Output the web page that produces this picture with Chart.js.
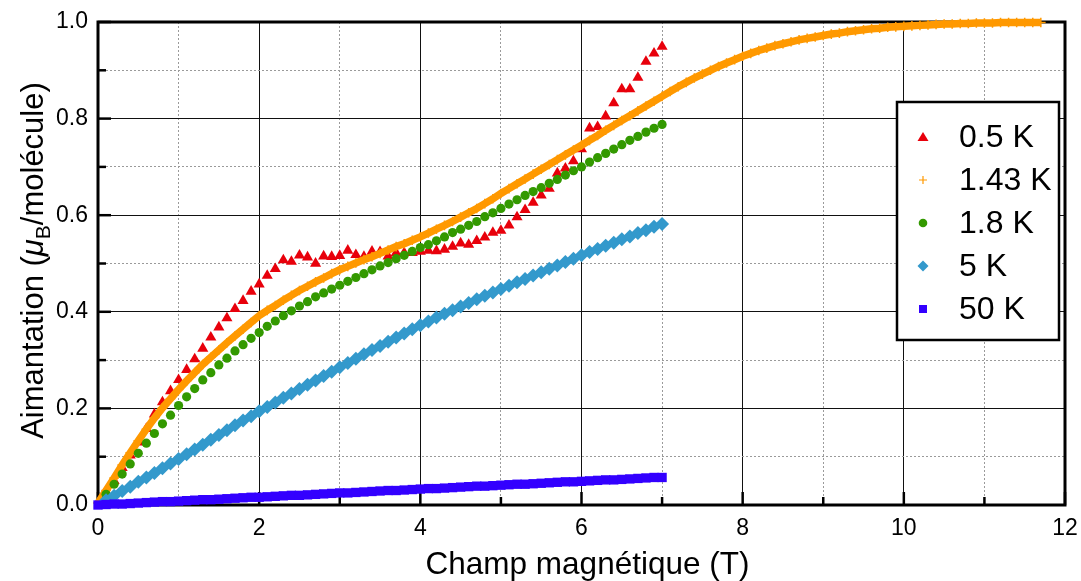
<!DOCTYPE html>
<html>
<head>
<meta charset="utf-8">
<script src="https://cdn.jsdelivr.net/npm/chart.js@4"></script>
<style>
  html, body { margin: 0; padding: 0; background: #fff; }
  canvas { display: block; }
</style>
</head>
<body>
<canvas id="chart" width="1081" height="581"></canvas>
<script>
// field values in tesla, 0.1 T steps
const fields = [0.1, 0.2, 0.3, 0.4, 0.5, 0.6, 0.7, 0.8, 0.9, 1.0,
  1.1, 1.2, 1.3, 1.4, 1.5, 1.6, 1.7, 1.8, 1.9, 2.0,
  2.1, 2.2, 2.3, 2.4, 2.5, 2.6, 2.7, 2.8, 2.9, 3.0,
  3.1, 3.2, 3.3, 3.4, 3.5, 3.6, 3.7, 3.8, 3.9, 4.0,
  4.1, 4.2, 4.3, 4.4, 4.5, 4.6, 4.7, 4.8, 4.9, 5.0,
  5.1, 5.2, 5.3, 5.4, 5.5, 5.6, 5.7, 5.8, 5.9, 6.0,
  6.1, 6.2, 6.3, 6.4, 6.5, 6.6, 6.7, 6.8, 6.9, 7.0];
const fieldsHigh = [7.1, 7.2, 7.3, 7.4, 7.5, 7.6, 7.7, 7.8, 7.9, 8.0,
  8.1, 8.2, 8.3, 8.4, 8.5, 8.6, 8.7, 8.8, 8.9, 9.0,
  9.1, 9.2, 9.3, 9.4, 9.5, 9.6, 9.7, 9.8, 9.9, 10.0,
  10.1, 10.2, 10.3, 10.4, 10.5, 10.6, 10.7, 10.8, 10.9, 11.0,
  11.1, 11.2, 11.3, 11.4, 11.5, 11.6, 11.7];
const fields50K = [0].concat(fields);
const fields143K = [0].concat(fields, fieldsHigh);

// magnetisation, muB per molecule
const m05K = [0.025, 0.050, 0.077, 0.103, 0.130, 0.158, 0.188, 0.213, 0.236, 0.259,
  0.280, 0.302, 0.324, 0.347, 0.368, 0.387, 0.406, 0.423, 0.442, 0.457,
  0.475, 0.489, 0.507, 0.504, 0.517, 0.513, 0.500, 0.515, 0.514, 0.516,
  0.527, 0.518, 0.514, 0.525, 0.524, 0.515, 0.522, 0.522, 0.522, 0.525,
  0.527, 0.526, 0.529, 0.535, 0.542, 0.539, 0.547, 0.554, 0.564, 0.568,
  0.579, 0.596, 0.611, 0.626, 0.641, 0.655, 0.687, 0.697, 0.712, 0.737,
  0.780, 0.783, 0.805, 0.832, 0.861, 0.861, 0.885, 0.918, 0.935, 0.949];

const m143K = [0.004, 0.030, 0.056, 0.083, 0.108, 0.133, 0.157, 0.180, 0.201, 0.220,
  0.239, 0.257, 0.274, 0.291, 0.306, 0.321, 0.336, 0.350, 0.364, 0.378,
  0.392, 0.403, 0.413, 0.424, 0.434, 0.444, 0.453, 0.462, 0.470, 0.479,
  0.487, 0.494, 0.501, 0.508, 0.514, 0.521, 0.528, 0.535, 0.541, 0.548,
  0.555, 0.563, 0.571, 0.579, 0.587, 0.596, 0.605, 0.614, 0.624, 0.634,
  0.645, 0.655, 0.665, 0.675, 0.685, 0.695, 0.705, 0.715, 0.725, 0.735,
  0.745, 0.755, 0.765, 0.776, 0.786, 0.796, 0.806, 0.816, 0.826, 0.836,
  0.846, 0.856, 0.866, 0.875, 0.884, 0.892, 0.900, 0.908, 0.915, 0.922,
  0.929, 0.935, 0.941, 0.946, 0.951, 0.955, 0.959, 0.963, 0.966, 0.969,
  0.972, 0.975, 0.977, 0.980, 0.982, 0.984, 0.986, 0.987, 0.989, 0.990,
  0.991, 0.992, 0.993, 0.994, 0.995, 0.996, 0.996, 0.997, 0.997, 0.998,
  0.998, 0.998, 0.999, 0.999, 0.999, 0.999, 0.999, 0.999];

const m18K = [0.022, 0.043, 0.064, 0.085, 0.107, 0.128, 0.148, 0.168, 0.186, 0.206,
  0.224, 0.241, 0.259, 0.274, 0.290, 0.304, 0.319, 0.332, 0.345, 0.357,
  0.370, 0.381, 0.392, 0.402, 0.412, 0.421, 0.431, 0.439, 0.447, 0.455,
  0.463, 0.471, 0.479, 0.487, 0.495, 0.502, 0.510, 0.517, 0.525, 0.533,
  0.539, 0.547, 0.555, 0.564, 0.571, 0.579, 0.587, 0.597, 0.605, 0.614,
  0.623, 0.632, 0.641, 0.649, 0.657, 0.666, 0.674, 0.683, 0.692, 0.700,
  0.710, 0.719, 0.728, 0.737, 0.746, 0.755, 0.763, 0.772, 0.780, 0.788];

const m5K = [0.010, 0.019, 0.029, 0.038, 0.048, 0.057, 0.066, 0.076, 0.086, 0.095,
  0.105, 0.115, 0.125, 0.135, 0.145, 0.155, 0.165, 0.175, 0.184, 0.194,
  0.203, 0.212, 0.222, 0.231, 0.240, 0.249, 0.258, 0.267, 0.276, 0.285,
  0.294, 0.303, 0.312, 0.321, 0.329, 0.338, 0.347, 0.355, 0.364, 0.372,
  0.380, 0.388, 0.396, 0.403, 0.411, 0.418, 0.426, 0.433, 0.440, 0.447,
  0.454, 0.461, 0.468, 0.475, 0.482, 0.489, 0.496, 0.503, 0.510, 0.517,
  0.524, 0.530, 0.537, 0.543, 0.550, 0.556, 0.563, 0.569, 0.576, 0.582];

const m50K = [0.000, 0.001, 0.002, 0.002, 0.003, 0.004, 0.005, 0.006, 0.007, 0.007,
  0.008, 0.009, 0.010, 0.011, 0.011, 0.012, 0.013, 0.014, 0.015, 0.016,
  0.016, 0.017, 0.018, 0.019, 0.020, 0.020, 0.021, 0.022, 0.023, 0.024,
  0.025, 0.025, 0.026, 0.027, 0.028, 0.029, 0.030, 0.030, 0.031, 0.032,
  0.033, 0.034, 0.034, 0.035, 0.036, 0.037, 0.038, 0.039, 0.039, 0.040,
  0.041, 0.042, 0.043, 0.043, 0.044, 0.045, 0.046, 0.047, 0.048, 0.048,
  0.049, 0.050, 0.051, 0.052, 0.052, 0.053, 0.054, 0.055, 0.056, 0.057, 0.057];

const seriesLabels = ['0.5 K', '1.43 K', '1.8 K', '5 K', '50 K'];
const xTicks = [0, 2, 4, 6, 8, 10, 12];
const yTicks = [0.0, 0.2, 0.4, 0.6, 0.8, 1.0];

const FONT = '"Liberation Sans", Arial, Helvetica, sans-serif';
const RED = '#e8000b', ORANGE = '#ff9900', GREEN = '#339900', BLUE = '#3399cc', PURPLE = '#3300ff';

function pts(xs, ys) {
  return xs.map((x, i) => ({ x: x, y: ys[i] }));
}

function isMajor(v, step) {
  return Math.round(v / step) % 2 === 0;
}

// inward tick marks and the heavy frame
const framePlugin = {
  id: 'frame',
  beforeDatasetsDraw(chart) {
    const { ctx, chartArea: a, scales: { x, y } } = chart;
    ctx.save();
    ctx.strokeStyle = '#000';
    ctx.lineWidth = 2.5;
    x.ticks.forEach(t => {
      const px = x.getPixelForValue(t.value);
      const len = isMajor(t.value, 1) ? 13 : 8;
      ctx.beginPath();
      ctx.moveTo(px, a.bottom);
      ctx.lineTo(px, a.bottom - len);
      ctx.stroke();
    });
    y.ticks.forEach(t => {
      const py = y.getPixelForValue(t.value);
      const len = isMajor(t.value, 0.1) ? 13 : 8;
      ctx.beginPath();
      ctx.moveTo(a.left, py);
      ctx.lineTo(a.left + len, py);
      ctx.stroke();
    });
    ctx.lineWidth = 3;
    ctx.strokeRect(a.left, a.top, a.right - a.left, a.bottom - a.top);
    ctx.restore();
  }
};

function drawMarker(ctx, style, x, y, color) {
  ctx.fillStyle = color;
  ctx.strokeStyle = color;
  ctx.beginPath();
  if (style === 'triangle') {
    ctx.moveTo(x, y - 5);
    ctx.lineTo(x + 5.5, y + 4);
    ctx.lineTo(x - 5.5, y + 4);
    ctx.closePath();
    ctx.fill();
  } else if (style === 'cross') {
    ctx.lineWidth = 1.2;
    ctx.moveTo(x - 4, y); ctx.lineTo(x + 4, y);
    ctx.moveTo(x, y - 4); ctx.lineTo(x, y + 4);
    ctx.stroke();
  } else if (style === 'circle') {
    ctx.arc(x, y, 4.3, 0, Math.PI * 2);
    ctx.fill();
  } else if (style === 'rectRot') {
    ctx.moveTo(x, y - 5.5); ctx.lineTo(x + 5.5, y);
    ctx.lineTo(x, y + 5.5); ctx.lineTo(x - 5.5, y);
    ctx.closePath();
    ctx.fill();
  } else {
    ctx.rect(x - 4, y - 4, 8, 8);
    ctx.fill();
  }
}

// boxed legend inside the plot, plus the axis titles
const overlayPlugin = {
  id: 'overlay',
  afterDraw(chart) {
    const { ctx, chartArea: a } = chart;
    ctx.save();

    const w = 162, h = 238;
    const bx = a.right - 6 - w, by = a.top + 80;
    ctx.fillStyle = '#fff';
    ctx.fillRect(bx, by, w, h);
    ctx.strokeStyle = '#000';
    ctx.lineWidth = 2.5;
    ctx.strokeRect(bx, by, w, h);
    ctx.font = '32px ' + FONT;
    ctx.textBaseline = 'middle';
    ctx.textAlign = 'left';
    chart.data.datasets.forEach((ds, i) => {
      const ry = by + 35 + i * 43;
      drawMarker(ctx, ds.pointStyle, bx + 26, ry, ds.pointBackgroundColor);
      ctx.fillStyle = '#000';
      ctx.fillText(ds.label, bx + 62, ry + 1);
    });

    // x title
    ctx.fillStyle = '#000';
    ctx.textBaseline = 'alphabetic';
    ctx.textAlign = 'center';
    ctx.font = '31.5px ' + FONT;
    ctx.fillText('Champ magnétique (T)', (a.left + a.right) / 2 + 6, 574);

    // y title, rotated, with italic mu and subscript B
    const parts = [
      { t: 'Aimantation (', f: '31px ' + FONT, dy: 0 },
      { t: 'μ', f: 'italic 31px ' + FONT, dy: 0 },
      { t: 'B', f: '21px ' + FONT, dy: 7 },
      { t: '/molécule)', f: '31px ' + FONT, dy: 0 }
    ];
    let total = 0;
    parts.forEach(p => { ctx.font = p.f; p.w = ctx.measureText(p.t).width; total += p.w; });
    ctx.translate(43, (a.top + a.bottom) / 2 - 3);
    ctx.rotate(-Math.PI / 2);
    ctx.textAlign = 'left';
    let cx = -total / 2;
    parts.forEach(p => {
      ctx.font = p.f;
      ctx.fillText(p.t, cx, p.dy);
      cx += p.w;
    });
    ctx.restore();
  }
};

new Chart(document.getElementById('chart'), {
  type: 'scatter',
  data: {
    datasets: [
      {
        label: seriesLabels[0],
        data: pts(fields, m05K),
        pointStyle: 'triangle',
        pointRadius: 6.4,
        pointBorderWidth: 0,
        pointBackgroundColor: RED,
        pointBorderColor: RED,
        clip: false,
        order: 5
      },
      {
        label: seriesLabels[1],
        data: pts(fields143K, m143K),
        showLine: true,
        borderColor: ORANGE,
        borderWidth: 7.5,
        pointStyle: 'cross',
        pointRadius: 4.8,
        pointBorderWidth: 1.5,
        pointBackgroundColor: ORANGE,
        pointBorderColor: ORANGE,
        clip: false,
        order: 4
      },
      {
        label: seriesLabels[2],
        data: pts(fields, m18K),
        pointStyle: 'circle',
        pointRadius: 4.6,
        pointBorderWidth: 0,
        pointBackgroundColor: GREEN,
        pointBorderColor: GREEN,
        clip: false,
        order: 3
      },
      {
        label: seriesLabels[3],
        data: pts(fields, m5K),
        pointStyle: 'rectRot',
        pointRadius: 7,
        pointBorderWidth: 0,
        pointBackgroundColor: BLUE,
        pointBorderColor: BLUE,
        clip: false,
        order: 2
      },
      {
        label: seriesLabels[4],
        data: pts(fields50K, m50K),
        pointStyle: 'rect',
        pointRadius: 6.6,
        pointBorderWidth: 0,
        pointBackgroundColor: PURPLE,
        pointBorderColor: PURPLE,
        clip: false,
        order: 1
      }
    ]
  },
  options: {
    responsive: false,
    animation: false,
    devicePixelRatio: 1,
    layout: { padding: { top: 22, right: 16, left: 0, bottom: 0 } },
    plugins: {
      legend: { display: false },
      tooltip: { enabled: false }
    },
    scales: {
      x: {
        type: 'linear',
        min: 0,
        max: 12,
        afterFit: s => { s.height = 76; s.paddingLeft = 0; s.paddingRight = 0; },
        ticks: {
          stepSize: 1,
          padding: 10,
          color: '#000',
          font: { family: FONT, size: 23 },
          maxRotation: 0,
          autoSkip: false,
          callback: v => xTicks.includes(v) ? String(v) : ''
        },
        grid: {
          drawTicks: false,
          lineWidth: 1,
          color: c => (c.tick && isMajor(c.tick.value, 1)) ? '#111' : '#9a9a9a'
        },
        border: {
          display: false,
          dash: c => (c.tick && !isMajor(c.tick.value, 1)) ? [2, 2] : []
        }
      },
      y: {
        type: 'linear',
        min: 0,
        max: 1,
        afterFit: s => { s.width = 98; s.paddingTop = 0; s.paddingBottom = 0; },
        ticks: {
          stepSize: 0.1,
          padding: 10,
          color: '#000',
          font: { family: FONT, size: 23 },
          autoSkip: false,
          callback: v => {
            const r = Math.round(v * 10) / 10;
            return yTicks.includes(r) ? r.toFixed(1) : '';
          }
        },
        grid: {
          drawTicks: false,
          lineWidth: 1,
          color: c => (c.tick && isMajor(c.tick.value, 0.1)) ? '#111' : '#9a9a9a'
        },
        border: {
          display: false,
          dash: c => (c.tick && !isMajor(c.tick.value, 0.1)) ? [2, 2] : []
        }
      }
    }
  },
  plugins: [framePlugin, overlayPlugin]
});
</script>
</body>
</html>
